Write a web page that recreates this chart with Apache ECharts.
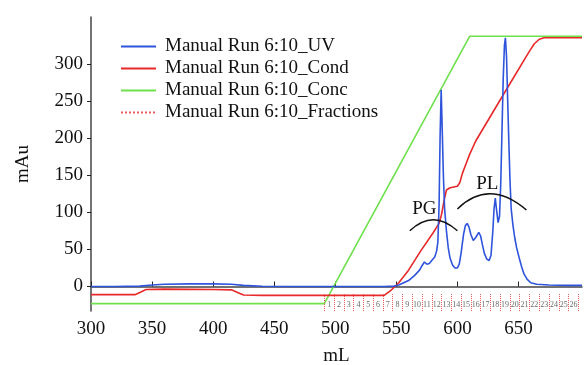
<!DOCTYPE html>
<html>
<head>
<meta charset="utf-8">
<script src="https://cdn.jsdelivr.net/npm/echarts@6/dist/echarts.min.js"></script>
<style>
  html, body { margin: 0; padding: 0; background: #fff; }
  #main { width: 585px; height: 365px; }
</style>
</head>
<body>
<div id="main"></div>
<script>
// mL, mAu
var uvData = [
    [300,0],[320,0],[340,0.5],[350,2],[360,3],[380,3.5],[400,3.5],[415,3],[425,1.5],[440,0.3],
    [460,0],[500,0],[540,0],[548,0.5],[552,2],[556,5],[560,8],[565,15],[569,22],[571,28],
    [573,33],[575,30],[577,31],[578.5,34],[580,36],[581.5,40],[583,48],[584,60],[585,110],
    [585.8,200],[586.7,265],[587.5,215],[588.5,150],[589.5,105],[591,75],[592.5,52],[594,38],
    [596,29],[598,25],[600,25],[601.5,30],[603,45],[605,70],[606.5,82],[608,85],[609.5,80],
    [611,70],[613,62],[615,66],[617.5,73],[619,68],[620.5,56],[622,45],[624,37],[626,35],
    [627.5,42],[629,75],[630,105],[631,119],[632,104],[633.3,86],[634.5,95],[635.5,140],
    [636.5,210],[637.5,280],[638.5,325],[639.3,335],[640.2,310],[641,260],[642,200],[643,145],
    [644,105],[645.5,82],[647,65],[648.5,52],[650.5,39],[652.5,27],[654.5,17],[657,10],
    [660,5],[665,3],[675,2],[690,1.5],[702,1.5]
];
var condData = [
    [300,-11],[336,-11],[340,-8],[345,-4],[360,-3.5],[400,-4],[415,-4.5],[420,-8],[425,-11.5],
    [440,-12],[500,-12],[540,-12],[545,-6],[552,5],[560,22],[570,48],[580,72],[585,85],
    [587,97],[589,115],[591,130],[594,133],[600,135],[602,140],[604,152],[607,165],[610,178],
    [615,196],[640,265],[659,317],[663,327],[667,333],[671,335],[702,335]
];
var concData = [[300,-23],[491,-23],[610,337],[702,337]];

var fracEdges = [491,499,507,515,523,531,539,547,555,563,571,579,587,595,603,611,619,627,635,643,651,659,667,675,683,691,699];
var fracNames = ['1','2','3','4','5','6','7','8','9','10','11','12','13','14','15','16','17','18','19','20','21','22','23','24','25','26'];

var xTicks = [300,350,400,450,500,550,600,650];
var yTicks = [0,50,100,150,200,250,300];

var seriesNames = ['Manual Run 6:10_UV','Manual Run 6:10_Cond','Manual Run 6:10_Conc','Manual Run 6:10_Fractions'];

var FONT = '"Liberation Serif", "Times New Roman", serif';

var myChart = echarts.init(document.getElementById('main'));

var fracLines = [];
for (var i = 0; i < fracEdges.length; i++) {
    fracLines.push([{coord: [fracEdges[i], -33]}, {coord: [fracEdges[i], -9]}]);
}
var fracLabels = [];
for (var j = 0; j < fracNames.length; j++) {
    fracLabels.push([(fracEdges[j] + fracEdges[j + 1]) / 2, -25, fracNames[j]]);
}

var option = {
    animation: false,
    grid: {left: 91, right: 3, top: 17, bottom: 54, outerBoundsMode: 'none'},
    legend: {
        orient: 'vertical', left: 115, top: 32, itemGap: 3, itemWidth: 35, itemHeight: 14,
        itemStyle: {opacity: 0},
        textStyle: {fontFamily: FONT, fontSize: 19, color: '#111', padding: [0, 0, 0, 4]},
        data: seriesNames
    },
    xAxis: {
        type: 'value', min: 300, max: 702,
        name: 'mL', nameLocation: 'middle', nameGap: 36,
        nameTextStyle: {fontFamily: FONT, fontSize: 19, color: '#111'},
        axisLine: {show: true, lineStyle: {color: '#444', width: 1.5}},
        axisTick: {show: true, inside: true, length: 5, customValues: xTicks, lineStyle: {color: '#222'}},
        axisLabel: {customValues: xTicks, fontFamily: FONT, fontSize: 19, color: '#111', margin: 9},
        splitLine: {show: false}
    },
    yAxis: {
        type: 'value', min: -33, max: 363,
        name: 'mAu', nameLocation: 'middle', nameGap: 58,
        nameTextStyle: {fontFamily: FONT, fontSize: 19, color: '#111'},
        axisLine: {show: true, lineStyle: {color: '#444', width: 1.5}},
        axisTick: {show: true, inside: false, length: 4, customValues: yTicks, lineStyle: {color: '#222'}},
        axisLabel: {customValues: yTicks, fontFamily: FONT, fontSize: 19, color: '#111', margin: 8},
        splitLine: {show: false}
    },
    series: [
        {name: seriesNames[0], type: 'line', data: uvData, symbol: 'none', z: 4,
            lineStyle: {color: '#2f54dc', width: 1.6}, itemStyle: {color: '#2f54dc'}},
        {name: seriesNames[1], type: 'line', data: condData, symbol: 'none', z: 3,
            lineStyle: {color: '#e8292a', width: 1.6}, itemStyle: {color: '#e8292a'}},
        {name: seriesNames[2], type: 'line', data: concData, symbol: 'none', z: 2,
            lineStyle: {color: '#6ee04c', width: 1.6}, itemStyle: {color: '#6ee04c'}},
        {name: seriesNames[3], type: 'line', data: [], symbol: 'none', z: 1,
            lineStyle: {color: '#ec5a5a', width: 1, type: 'dotted'}, itemStyle: {color: '#ec5a5a'},
            markLine: {
                silent: true, symbol: ['none', 'none'], label: {show: false},
                lineStyle: {color: '#ec5a5a', width: 1, type: 'dotted'},
                data: fracLines
            }},
        {name: 'fracLabels', type: 'scatter', data: fracLabels, symbolSize: 0, silent: true,
            label: {show: true, position: 'inside', fontSize: 8, fontFamily: FONT, color: '#444',
                formatter: function (p) { return p.value[2]; }}}
    ]
};
myChart.setOption(option);

// PG / PL annotations, in data units
var pgArc = [[561, 75], [580, 105], [600, 75]];
var plArc = [[600, 104.5], [626, 146], [656.5, 103]];
var pgText = [573, 104.5];
var plText = [624.5, 138];

function px(p) { return myChart.convertToPixel({gridIndex: 0}, p); }

function arc(pts) {
    var a = px(pts[0]), c = px(pts[1]), b = px(pts[2]);
    return {type: 'bezierCurve', shape: {x1: a[0], y1: a[1], cpx1: c[0], cpy1: c[1], x2: b[0], y2: b[1]},
        style: {stroke: '#111', lineWidth: 1.5, fill: null}, z: 10};
}
function label(t, p) {
    var q = px(p);
    return {type: 'text', x: q[0], y: q[1], z: 10,
        style: {text: t, font: '19px ' + FONT, fill: '#111', align: 'center', verticalAlign: 'middle'}};
}

myChart.setOption({graphic: [arc(pgArc), arc(plArc), label('PG', pgText), label('PL', plText)]});
</script>
</body>
</html>
